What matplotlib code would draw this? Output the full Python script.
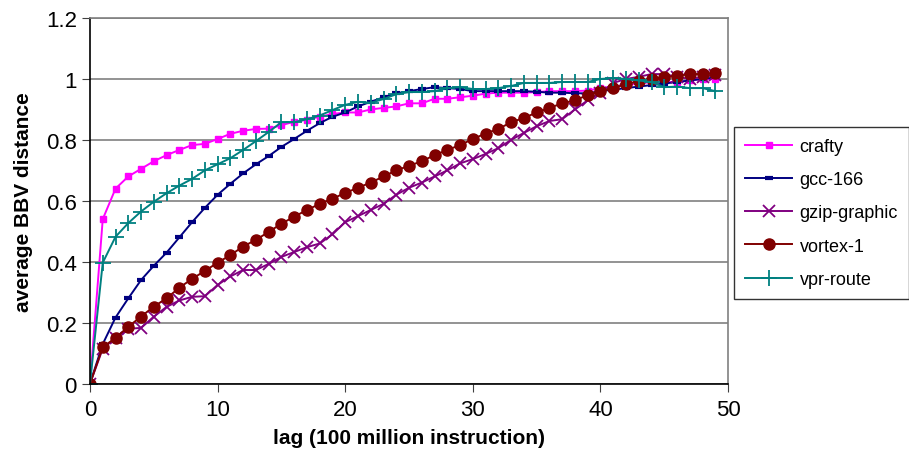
import numpy as np
import matplotlib
matplotlib.use("Agg")
import matplotlib.pyplot as plt

plt.rcParams['font.family'] = ['Liberation Sans', 'DejaVu Sans']

lag = list(range(0, 50))

crafty = [0, 0.54, 0.64, 0.68, 0.705, 0.73, 0.75, 0.767, 0.783, 0.787,
          0.803, 0.82, 0.83, 0.836, 0.837, 0.848, 0.86, 0.866, 0.876, 0.885,
          0.89, 0.89, 0.90, 0.905, 0.91, 0.92, 0.92, 0.935, 0.935, 0.94,
          0.945, 0.952, 0.955, 0.955, 0.955, 0.957, 0.96, 0.96, 0.96, 0.962,
          0.97, 0.975, 0.98, 0.985, 0.99, 0.99, 0.99, 0.995, 1.0, 1.0]
gcc_166 = [0, 0.13, 0.217, 0.28, 0.34, 0.387, 0.43, 0.48, 0.53, 0.577,
           0.62, 0.656, 0.69, 0.72, 0.747, 0.777, 0.803, 0.83, 0.855, 0.876,
           0.89, 0.91, 0.925, 0.94, 0.953, 0.96, 0.967, 0.973, 0.97, 0.967,
           0.96, 0.96, 0.96, 0.96, 0.96, 0.958, 0.955, 0.955, 0.953, 0.953,
           0.96, 0.965, 0.97, 0.975, 0.98, 0.985, 0.99, 0.995, 1.0, 1.005]
gzip_graphic = [0, 0.115, 0.15, 0.18, 0.183, 0.22, 0.252, 0.273, 0.285, 0.287,
                0.324, 0.352, 0.373, 0.373, 0.393, 0.416, 0.432, 0.448, 0.46, 0.49,
                0.53, 0.55, 0.57, 0.59, 0.62, 0.643, 0.66, 0.68, 0.70, 0.723,
                0.737, 0.754, 0.773, 0.80, 0.823, 0.845, 0.862, 0.868, 0.90, 0.93,
                0.955, 0.987, 1.0, 1.007, 1.016, 1.016, 1.007, 1.0, 1.007, 1.013]
vortex_1 = [0, 0.12, 0.15, 0.187, 0.22, 0.253, 0.28, 0.315, 0.344, 0.37,
            0.397, 0.422, 0.45, 0.472, 0.498, 0.525, 0.548, 0.57, 0.59, 0.607,
            0.626, 0.643, 0.66, 0.68, 0.70, 0.715, 0.73, 0.75, 0.767, 0.783,
            0.803, 0.821, 0.836, 0.858, 0.872, 0.89, 0.905, 0.92, 0.93, 0.947,
            0.96, 0.97, 0.983, 0.993, 1.0, 1.006, 1.01, 1.016, 1.016, 1.02]
vpr_route = [0, 0.397, 0.482, 0.527, 0.565, 0.597, 0.625, 0.65, 0.672, 0.70,
             0.72, 0.74, 0.767, 0.796, 0.826, 0.858, 0.858, 0.868, 0.88, 0.898,
             0.915, 0.925, 0.922, 0.934, 0.95, 0.957, 0.957, 0.96, 0.97, 0.973,
             0.967, 0.967, 0.97, 0.977, 0.987, 0.987, 0.987, 0.99, 0.99, 0.99,
             1.0, 1.003, 1.0, 0.995, 0.99, 0.973, 0.975, 0.97, 0.97, 0.96]

fig = plt.figure(figsize=(9.09, 4.64), dpi=100)
ax = fig.add_axes([0.099, 0.171, 0.702, 0.788])

ax.plot(lag, crafty, color='#FF00FF', marker='s', ms=5, lw=1.4, label='crafty')
ax.plot(lag, gcc_166, color='#000080', marker='_', ms=6, mew=3, lw=1.4, label='gcc-166')
ax.plot(lag, gzip_graphic, color='#800080', marker='x', ms=9, mew=1.3, lw=1.4, label='gzip-graphic')
ax.plot(lag, vortex_1, color='#800000', marker='o', ms=8, lw=1.4, label='vortex-1')
ax.plot(lag, vpr_route, color='#008080', marker='+', ms=11, mew=1.3, lw=1.4, label='vpr-route')

ax.set_xlim(0, 50)
ax.set_ylim(0, 1.2)
ax.set_xticks([0, 10, 20, 30, 40, 50])
ax.set_yticks([0, 0.2, 0.4, 0.6, 0.8, 1.0, 1.2])
ax.set_yticklabels(['0', '0.2', '0.4', '0.6', '0.8', '1', '1.2'])
ax.tick_params(labelsize=16, direction='out', length=6, color='#404040')
ax.tick_params(axis='x', pad=5)
ax.grid(axis='y', color='#808080', lw=1.2)
ax.set_axisbelow(True)
for s in ['top', 'right']:
    ax.spines[s].set_color('#808080')
    ax.spines[s].set_linewidth(1.2)
for s in ['left', 'bottom']:
    ax.spines[s].set_color('black')
    ax.spines[s].set_linewidth(1.2)

ax.set_xlabel('lag (100 million instruction)', fontsize=15, fontweight='bold', labelpad=6)
ax.set_ylabel('average BBV distance', fontsize=15, fontweight='bold', labelpad=9)

leg = fig.legend(loc='upper left', bbox_to_anchor=(0.808, 0.724), fontsize=13,
                 frameon=True, fancybox=False, edgecolor='black', handlelength=2.6,
                 labelspacing=0.9, borderpad=0.6, handletextpad=0.4, borderaxespad=0)
leg.get_frame().set_linewidth(1.0)

fig.savefig('out.png', dpi=100)
